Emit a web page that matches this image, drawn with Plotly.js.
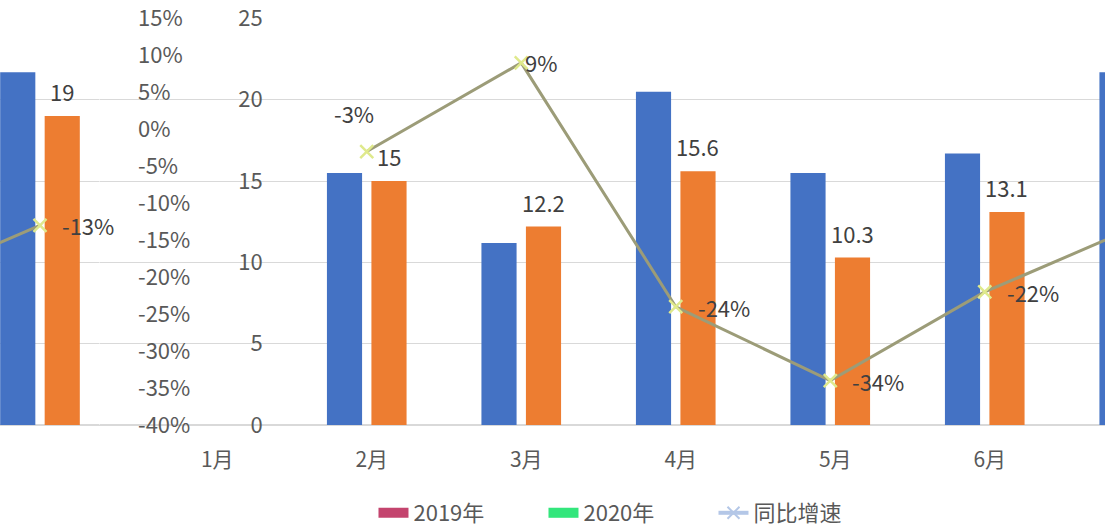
<!DOCTYPE html>
<html>
<head>
<meta charset="utf-8">
<script src="https://cdn.plot.ly/plotly-3.0.1.min.js"></script>
<style>
  html, body { margin: 0; padding: 0; background: #ffffff; }
  #chart { width: 1105px; height: 529px; }
</style>
</head>
<body>
<div id="chart"></div>
<script>
// ---------- data ----------
const months    = ['1月', '2月', '3月', '4月', '5月', '6月', '7月'];
const sales2019 = [null, 15.5, 11.2, 20.5, 15.5, 16.7, 21.7];
const sales2020 = [null, 15, 12.2, 15.6, 10.3, 13.1, 19];
const growth    = [null, -3, 9, -24, -34, -22, -13];   // 同比增速, %
const seriesNames = ['2019年', '2020年', '同比增速'];
const yTicks  = [0, 5, 10, 15, 20, 25];
const y2Ticks = [-40, -35, -30, -25, -20, -15, -10, -5, 0, 5, 10, 15];

// ---------- styles ----------
const FONT = '"Noto Sans CJK SC", "Noto Sans", sans-serif';
const BLUE = '#4472c4', ORANGE = '#ed7d31';
const LINE = '#9c9c78', MARK = '#dfe98c';
const LEG2019 = '#c4446e', LEG2020 = '#33e67c', LEGLINE = '#b4c7e7';
const TICK = '#595959', LABEL = '#404040';

// growth-label placement per point (style only)
const gAnchor = ['left', 'center', 'left', 'left', 'left', 'left', 'left'];
const gShiftX = [20, -13, 2, 20, 20, 20, 20];
const gShiftY = [0, 39, 1, 0, 0, 0, 0];

function barTraces(xa) {
  return [
    {type: 'bar', name: seriesNames[0], x: months, y: sales2019, xaxis: xa, yaxis: 'y',
     marker: {color: BLUE}, showlegend: false, hoverinfo: 'skip'},
    {type: 'bar', name: seriesNames[1], x: months, y: sales2020, xaxis: xa, yaxis: 'y',
     marker: {color: ORANGE}, showlegend: false, hoverinfo: 'skip'}
  ];
}
function lineTrace(xa) {
  return {type: 'scatter', mode: 'lines+markers', name: seriesNames[2], x: months, y: growth,
    xaxis: xa, yaxis: 'y2', connectgaps: false, cliponaxis: false,
    line: {color: LINE, width: 3},
    marker: {symbol: 'x-thin', size: 13, line: {color: MARK, width: 2.5}, color: MARK},
    showlegend: false, hoverinfo: 'skip'};
}

const traces = [
  ...barTraces('x'), lineTrace('x'),
  ...barTraces('x2'), lineTrace('x2'),
  // legend entries
  {type: 'scatter', mode: 'lines', name: seriesNames[0], x: [null], y: [null],
   line: {color: LEG2019, width: 14}, hoverinfo: 'skip'},
  {type: 'scatter', mode: 'lines', name: seriesNames[1], x: [null], y: [null],
   line: {color: LEG2020, width: 14}, hoverinfo: 'skip'},
  {type: 'scatter', mode: 'lines+markers', name: seriesNames[2], x: [null], y: [null],
   line: {color: LEGLINE, width: 4},
   marker: {symbol: 'x-thin', size: 12, line: {color: LEGLINE, width: 2}}, hoverinfo: 'skip'}
];

const labelFont = {family: FONT, size: 22, color: LABEL};
const annotations = [];
['x', 'x2'].forEach(xa => {
  months.forEach((m, i) => {
    if (sales2020[i] !== null) {
      annotations.push({xref: xa, yref: 'y', x: m, y: sales2020[i], text: String(sales2020[i]),
        showarrow: false, xanchor: 'center', yanchor: 'middle', xshift: 22, yshift: 25, font: labelFont});
    }
    if (growth[i] !== null) {
      annotations.push({xref: xa, yref: 'y2', x: m, y: growth[i], text: growth[i] + '%',
        showarrow: false, xanchor: gAnchor[i], yanchor: 'middle',
        xshift: gShiftX[i], yshift: gShiftY[i], font: labelFont});
    }
  });
});

const pxPerCat = 154.5;
const stripFrac = 0.09;
const stripStart = 6 - 40 / pxPerCat;

const layout = {
  width: 1105, height: 529,
  margin: {l: 0, r: 0, t: 18, b: 104, pad: 0, autoexpand: false},
  paper_bgcolor: '#ffffff', plot_bgcolor: '#ffffff',
  font: {family: FONT, size: 22, color: TICK},
  barmode: 'group', bargap: 0.424, bargroupgap: 0.21,
  showlegend: true,
  legend: {orientation: 'h', x: 0.338, xanchor: 'left', y: -0.2162, yanchor: 'middle',
           entrywidth: 125, entrywidthmode: 'pixels',
           font: {family: FONT, size: 22, color: TICK}, bgcolor: 'rgba(0,0,0,0)'},
  xaxis: {domain: [0, 1], type: 'category', categoryorder: 'array', categoryarray: months,
          range: [-212.25 / pxPerCat, (1105 - 212.25) / pxPerCat],
          showgrid: false, zeroline: false, showline: false, ticks: '',
          ticklabelstandoff: 20, ticklabelshift: 5,
          tickfont: {family: FONT, size: 21, color: TICK}, anchor: 'y', automargin: false},
  xaxis2: {domain: [0, stripFrac], type: 'category', categoryorder: 'array', categoryarray: months,
           range: [stripStart, stripStart + stripFrac * 1105 / pxPerCat],
           visible: false, anchor: 'y'},
  yaxis: {range: [0, 25.03], tickvals: yTicks, anchor: 'free', position: 0.2378, side: 'left',
          showgrid: true, gridcolor: '#d9d9d9', gridwidth: 1,
          zeroline: true, zerolinecolor: '#d9d9d9', zerolinewidth: 1.5,
          showline: false, ticks: '', ticklabelstandoff: 0,
          tickfont: {family: FONT, size: 22, color: TICK}, automargin: false},
  yaxis2: {range: [-40, 15.066], tickvals: y2Ticks, ticktext: y2Ticks.map(v => v + '%'),
           overlaying: 'y', side: 'right',
           anchor: 'free', position: 0.124, showgrid: false, zeroline: false, showline: false,
           ticks: '', ticklabelstandoff: 0,
           tickfont: {family: FONT, size: 22, color: TICK}, automargin: false},
  annotations: annotations
};

Plotly.newPlot('chart', traces, layout, {displayModeBar: false, staticPlot: true});
</script>
</body>
</html>
